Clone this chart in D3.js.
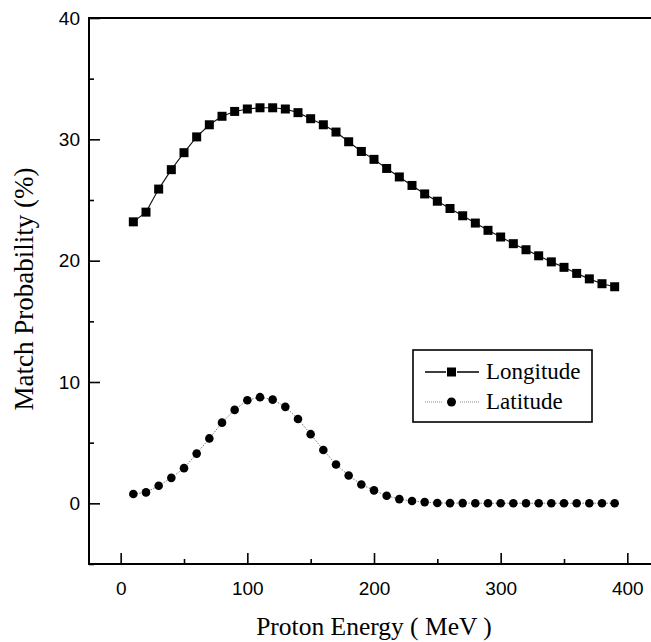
<!DOCTYPE html>
<html>
<head>
<meta charset="utf-8">
<script src="https://cdn.jsdelivr.net/npm/d3@7/dist/d3.min.js"></script>
<style>
  body { margin: 0; background: #fff; }
  .tick text { font-family: "Liberation Sans", Arial, sans-serif; font-size: 19px; fill: #000; }
  .domain { display: none; }
  .tick line { stroke: #000; stroke-width: 1.6px; }
  .lbl { font-family: "Liberation Serif", "Times New Roman", serif; font-size: 25.5px; fill: #000; }
  .leg { font-family: "Liberation Serif", "Times New Roman", serif; font-size: 23px; fill: #000; }
</style>
</head>
<body>
<div id="chart"></div>
<script>
var energy = [10, 20, 30, 40, 50, 60, 70, 80, 90, 100, 110, 120, 130, 140, 150, 160, 170, 180, 190, 200,
              210, 220, 230, 240, 250, 260, 270, 280, 290, 300, 310, 320, 330, 340, 350, 360, 370, 380, 390];

var longitude = [23.2, 24.0, 25.9, 27.5, 28.9, 30.2, 31.2, 31.9, 32.3, 32.5, 32.6, 32.6, 32.5, 32.2, 31.7, 31.2, 30.6, 29.8, 29.0, 28.35,
                 27.6, 26.9, 26.2, 25.5, 24.9, 24.3, 23.7, 23.1, 22.5, 21.95, 21.4, 20.9, 20.4, 19.9, 19.45, 18.95, 18.5, 18.1, 17.85];

var latitude = [0.77, 0.9, 1.45, 2.1, 2.9, 4.1, 5.35, 6.65, 7.7, 8.5, 8.75, 8.55, 7.95, 6.95, 5.7, 4.4, 3.2, 2.3, 1.55, 1.07,
                0.63, 0.35, 0.19, 0.1, 0.03, 0.02, 0.02, 0.01, 0.01, 0.01, 0.01, 0.01, 0.01, 0.01, 0.01, 0.01, 0.01, 0.01, 0.01];

var xMajor = [0, 100, 200, 300, 400],
    xMinor = [50, 150, 250, 350],
    yMajor = [0, 10, 20, 30, 40],
    yMinor = [-5, 5, 15, 25, 35];

var width = 651,
    height = 642,
    plotLeft = 89, plotRight = 659, plotTop = 18, plotBottom = 564;

var x = d3.scaleLinear().domain([-25, 425]).range([plotLeft, plotRight]);
var y = d3.scaleLinear().domain([-5, 40]).range([plotBottom, plotTop]);

var svg = d3.select("#chart").append("svg")
    .attr("width", width)
    .attr("height", height);

// minor ticks (inward, short)
svg.append("g")
    .attr("transform", "translate(0," + plotBottom + ")")
    .call(d3.axisBottom(x).tickValues(xMinor).tickSize(-5).tickFormat(""));
svg.append("g")
    .attr("transform", "translate(" + plotLeft + ",0)")
    .call(d3.axisLeft(y).tickValues(yMinor).tickSize(-5).tickFormat(""));

// major ticks with labels
svg.append("g")
    .attr("transform", "translate(0," + plotBottom + ")")
    .call(d3.axisBottom(x).tickValues(xMajor).tickSizeInner(-11).tickSizeOuter(0).tickPadding(13))
    .selectAll("text").attr("dy", "0.95em");
svg.append("g")
    .attr("transform", "translate(" + plotLeft + ",0)")
    .call(d3.axisLeft(y).tickValues(yMajor).tickSizeInner(-11).tickSizeOuter(0).tickPadding(9));

// frame
svg.append("path")
    .attr("d", "M" + plotRight + "," + plotTop + "H" + plotLeft + "V" + plotBottom + "H" + plotRight)
    .attr("fill", "none")
    .attr("stroke", "#000")
    .attr("stroke-width", 2);

var data = energy.map(function(e, i) { return {e: e, lon: longitude[i], lat: latitude[i]}; });

var lineLon = d3.line().x(function(d) { return x(d.e); }).y(function(d) { return y(d.lon); });
var lineLat = d3.line().x(function(d) { return x(d.e); }).y(function(d) { return y(d.lat); });

svg.append("path")
    .datum(data)
    .attr("d", lineLon)
    .attr("fill", "none")
    .attr("stroke", "#111")
    .attr("stroke-width", 1.1);

svg.append("path")
    .datum(data)
    .attr("d", lineLat)
    .attr("fill", "none")
    .attr("stroke", "#777")
    .attr("stroke-width", 1)
    .attr("stroke-dasharray", "1.5,1.5");

svg.selectAll(".sq")
    .data(data)
  .enter().append("rect")
    .attr("class", "sq")
    .attr("x", function(d) { return x(d.e) - 4.5; })
    .attr("y", function(d) { return y(d.lon) - 4.5; })
    .attr("width", 9)
    .attr("height", 9)
    .attr("fill", "#000");

svg.selectAll(".dot")
    .data(data)
  .enter().append("circle")
    .attr("class", "dot")
    .attr("cx", function(d) { return x(d.e); })
    .attr("cy", function(d) { return y(d.lat); })
    .attr("r", 4.3)
    .attr("fill", "#000");

// axis titles
svg.append("text")
    .attr("class", "lbl")
    .attr("x", 374)
    .attr("y", 635)
    .attr("text-anchor", "middle")
    .text("Proton Energy ( MeV )");

svg.append("text")
    .attr("class", "lbl")
    .attr("transform", "translate(33,289) rotate(-90)")
    .attr("text-anchor", "middle")
    .style("font-size", "27px")
    .text("Match Probability (%)");

// legend
var leg = svg.append("g").attr("transform", "translate(413,350)");
leg.append("rect")
    .attr("width", 179)
    .attr("height", 72)
    .attr("fill", "#fff")
    .attr("stroke", "#000")
    .attr("stroke-width", 1.6);

// longitude entry
leg.append("path")
    .attr("d", "M12,22H33M44,22H66")
    .attr("stroke", "#000")
    .attr("stroke-width", 1.3);
leg.append("rect")
    .attr("x", 34).attr("y", 17.5)
    .attr("width", 9).attr("height", 9)
    .attr("fill", "#000");
leg.append("text")
    .attr("class", "leg")
    .attr("x", 73).attr("y", 29)
    .text("Longitude");

// latitude entry
leg.append("path")
    .attr("d", "M12,52H30M47,52H66")
    .attr("stroke", "#888")
    .attr("stroke-width", 1)
    .attr("stroke-dasharray", "1,1");
leg.append("circle")
    .attr("cx", 38.5).attr("cy", 52)
    .attr("r", 4.5)
    .attr("fill", "#000");
leg.append("text")
    .attr("class", "leg")
    .attr("x", 73).attr("y", 59)
    .text("Latitude");
</script>
</body>
</html>
